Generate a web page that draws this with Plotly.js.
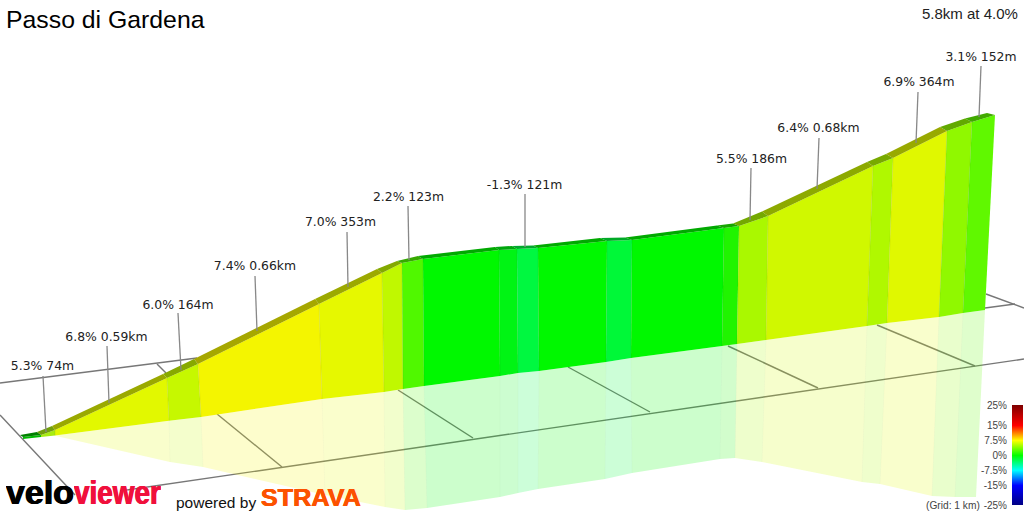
<!DOCTYPE html>
<html><head><meta charset="utf-8">
<script src="https://cdn.plot.ly/plotly-3.0.1.min.js"></script>
<style>html,body{margin:0;padding:0;background:#fff}#c{width:1024px;height:512px}</style></head>
<body><div id="c"></div>
<script>
// Section gradients and projected geometry
const gradientColors = ['#00bc00','#a8ec10','#e2f800','#c6f800','#f4f500','#e6f800','#c0f800','#50f800','#00f800','#00f414','#00f840','#00f800','#00f838','#00f800','#20f400','#aaf800','#d0f800','#b0f800','#e0f800','#90f800','#60f800'];
const frontTopX = [23,41,55,167,198,319,382,402,423,499,517,538,607,632,724,739,768,873,893,947,972,995];
const frontTopY = [437,435,430,378,364,304,273,263,259,250,249,248,241,240,228,226,216,166,158,131,122,115];
const backTopX  = [20,37,52,163,194,315,377,397,418,495,512,533,600,625,717,733,762,867,886,940,965,987];
const backTopY  = [435,432,426,374,359,299,269,261,256,247,246,245.5,238,237.5,225.5,223.5,211.5,162,154,127,118.5,113];
const floorX = [23,41,55,169,201,322,384,403,424,500,518,539,606,631,722,737,766,867,887,939,963,985];
const floorY = [439,437,435.5,420.7,417,399,392,389,386,376,373,371,362,358,346,344,340,326,323,317,313,310];
const shadeX = [41,41,56,170,203,325,385,405,427,500,518,538,605,632,720,735,762,862,880,932,955,976];
const shadeY = [437,437,436,462,467,495,507,510,508,497,493,489,479,473,459,458,462,482,484,496,497,497];

const gridLinesX = [[0,197],[985,1015],[120,1024],[0,75],[157,166],[217,282],[398,473],[568,650],[728,818],[877,975],[986,1024]];
const gridLinesY = [[383,358],[308,304],[491,359],[415,495],[364,373],[414,467],[390,438],[367,412],[346,388],[325,366],[294,308]];

const labelTexts = ['5.3% 74m','6.8% 0.59km','6.0% 164m','7.4% 0.66km','7.0% 353m','2.2% 123m','-1.3% 121m','5.5% 186m','6.4% 0.68km','6.9% 364m','3.1% 152m'];
const labelX = [42.5,106.5,178,255,340.5,408.5,524.5,751.5,818.5,919,981];
const labelY = [367,338,306,267,223,198,186,160,129,83,58];
const leaderX = [[43,46],[107,109],[178,181],[255,257],[347,348],[408,409],[525,525],[751,750],[819,817],[918,916],[981,979]];
const leaderY = [[376,432],[346,403],[313,370],[276,331],[232,287],[206,260],[194,247],[168,220],[138,189],[92,143],[66,117]];

const legendStops = [-25,-15,-7.5,0,7.5,15,25];
const legendLabels = ['-25%','-15%','-7.5%','0%','7.5%','15%','25%'];
const legendColors = ['#000080','#0000ff','#00ffff','#00ff00','#ffff00','#ff0000','#800000'];

const FONT = 'DejaVu Sans, sans-serif', ARIAL = 'Liberation Sans, Arial, sans-serif';
function rgb(h){return [1,3,5].map(i=>parseInt(h.slice(i,i+2),16));}
function dark(h,f){const c=rgb(h);return `rgb(${c.map(v=>Math.round(v*f)).join(',')})`;}
function alpha(h,a){return `rgba(${rgb(h).join(',')},${a})`;}
const traces=[];
function poly(x,y,fill){traces.push({type:'scatter',mode:'lines',x,y,fill:'toself',fillcolor:fill,line:{width:0},hoverinfo:'skip',showlegend:false,xaxis:'x',yaxis:'y'});}
function seg(x,y,c,w){traces.push({type:'scatter',mode:'lines',x,y,line:{color:c,width:w},hoverinfo:'skip',showlegend:false,xaxis:'x',yaxis:'y'});}
gridLinesX.forEach((x,i)=>seg(x,gridLinesY[i],'#777777',1.4));
gradientColors.forEach((c,i)=>{
  if(i===0) return;
  poly([floorX[i],floorX[i+1],shadeX[i+1],shadeX[i]],[floorY[i],floorY[i+1],shadeY[i+1],shadeY[i]],alpha(c,0.2));
});
gradientColors.forEach((c,i)=>{
  poly([frontTopX[i],frontTopX[i+1],floorX[i+1],floorX[i]],[frontTopY[i],frontTopY[i+1],floorY[i+1],floorY[i]],c);
  poly([backTopX[i],backTopX[i+1],frontTopX[i+1],frontTopX[i]],[backTopY[i],backTopY[i+1],frontTopY[i+1],frontTopY[i]],dark(c,0.68));
});
for(let i=2;i<gradientColors.length;i++){
  seg([frontTopX[i],floorX[i]],[frontTopY[i],floorY[i]],'rgba(0,0,0,0.07)',1);
  seg([floorX[i],shadeX[i]],[floorY[i],shadeY[i]],'rgba(0,0,0,0.02)',1);
}
leaderX.forEach((x,i)=>seg(x,leaderY[i],'#888888',1.3));
traces.push({type:'scatter',mode:'text',x:labelX,y:labelY,text:labelTexts,textposition:'middle center',textfont:{family:FONT,size:12.4,color:'#222'},hoverinfo:'skip',showlegend:false,xaxis:'x',yaxis:'y'});
traces.push({type:'heatmap',x:[0,1],y:legendStops,z:legendStops.map(v=>[v,v]),zmin:-25,zmax:25,zsmooth:'best',showscale:false,hoverinfo:'skip',
  colorscale:legendStops.map((v,i)=>[(v+25)/50,legendColors[i]]),xaxis:'x2',yaxis:'y2'});

function note(text,x,y,xanchor,yanchor,font,width){const a={text,x,y,xref:'x',yref:'y',xanchor,yanchor,showarrow:false,borderpad:0,font}; if(width) a.width=width; return a;}
const layout={width:1024,height:512,margin:{l:0,r:0,t:0,b:0},paper_bgcolor:'#fff',plot_bgcolor:'rgba(0,0,0,0)',showlegend:false,
 xaxis:{range:[0,1024],domain:[0,1],visible:false,fixedrange:true},
 yaxis:{range:[512,0],domain:[0,1],visible:false,fixedrange:true},
 xaxis2:{range:[0,1],domain:[1012/1024,1023/1024],visible:false,anchor:'y2',fixedrange:true},
 yaxis2:{range:[-25,25],domain:[7/512,107/512],anchor:'x2',side:'left',tickvals:legendStops,ticktext:legendLabels,ticks:'',showgrid:false,zeroline:false,showline:false,
   tickfont:{family:ARIAL,size:10,color:'#444'},ticklabelstandoff:4,fixedrange:true},
 annotations:[
  note('Passo di Gardena',4.5,19.5,'left','middle',{family:ARIAL,size:24.8,color:'#000'}),
  note('5.8km at 4.0%',1018.5,13.5,'right','middle',{family:ARIAL,size:15,color:'#222'}),
  note('(Grid: 1 km)',980.5,505,'right','middle',{family:ARIAL,size:10.2,color:'#444'}),
  note('<b>velo</b>',5,512,'left','bottom',{family:ARIAL,size:33,color:'#000',shadow:'0.6px 0 0 #000,-0.6px 0 0 #000'},68),
  note('<b>viewer</b>',73,512,'left','bottom',{family:ARIAL,size:33,color:'#f0103c',shadow:'0.6px 0 0 #f0103c,-0.6px 0 0 #f0103c'},87),
  note('powered by',174.5,502,'left','middle',{family:ARIAL,size:15.5,color:'#111'}),
  note('<b>STRAVA</b>',260,512,'left','bottom',{family:ARIAL,size:24.5,color:'#fc5200',shadow:'0.4px 0 0 #fc5200,-0.4px 0 0 #fc5200'},100)
 ]};
const logoWidths = {velo:68, viewer:87, STRAVA:100};
Plotly.newPlot('c',traces,layout,{displayModeBar:false,staticPlot:true}).then(()=>{
  document.querySelectorAll('.annotation-text').forEach(t=>{
    const w=logoWidths[t.textContent.trim()];
    if(w){t.setAttribute('textLength',w);t.setAttribute('lengthAdjust','spacingAndGlyphs');}
  });
});
</script></body></html>
